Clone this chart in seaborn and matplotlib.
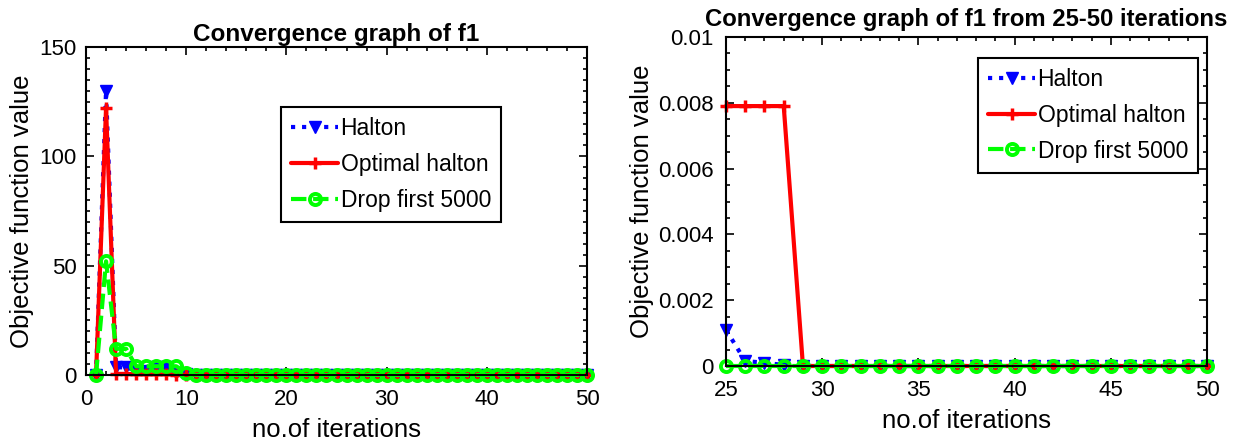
import numpy as np
import pandas as pd
import matplotlib
matplotlib.use("Agg")
import matplotlib.pyplot as plt
import seaborn as sns
from matplotlib.ticker import MultipleLocator

sns.set_theme(style="white")
plt.rcParams['font.family'] = ['Liberation Sans', 'DejaVu Sans']
plt.rcParams.update({"text.color": "black", "axes.labelcolor": "black",
                     "xtick.color": "black", "ytick.color": "black"})

# ---------------- data ----------------
iters = list(range(1, 51))
halton = [0, 130, 3.5, 3.5, 2, 2, 3.5, 3.5, 1, 0.5] + [0.0] * 40
optimal = [0, 122, 0.5, 0.5, 0.3, 0.3, 0.3, 0.3, 0.2, 0.1] + [0.0] * 14 + [0.0079] * 4 + [0.0] * 22
drop = [0, 52, 12, 12, 4, 4, 4, 4, 4, 1] + [0.0] * 40

zoom_iters = list(range(25, 51))
zoom_halton = [0.0011, 0.00015, 0.0001, 0.00003] + [0.0] * 22
zoom_optimal = [0.0079, 0.0079, 0.0079, 0.0079] + [0.0] * 22
zoom_drop = [0.0] * 26

labels = ["Halton", "Optimal halton", "Drop first 5000"]
titles = ["Convergence graph of f1", "Convergence graph of f1 from 25-50 iterations"]
xlabel = "no.of iterations"
ylabel = "Objective function value"

styles = [
    dict(color="#0000ff", linestyle=":", marker="v", markersize=8, markerfacecolor="#0000ff",
         markeredgecolor="#0000ff", markeredgewidth=1, linewidth=3),
    dict(color="#ff0000", linestyle="-", marker="+", markersize=8, markeredgecolor="#ff0000",
         markeredgewidth=2.5, linewidth=3),
    dict(color="#00ff00", linestyle="--", marker="o", markersize=8, markerfacecolor="none",
         markeredgecolor="#00ff00", markeredgewidth=2.8, linewidth=3),
]

fig = plt.figure(figsize=(12.43, 4.48), dpi=100)
ax1 = fig.add_axes([86 / 1243, 1 - 375 / 448, (587 - 86) / 1243, (375 - 47) / 448])
ax2 = fig.add_axes([726 / 1243, 1 - 366 / 448, (1207 - 726) / 1243, (366 - 37) / 448])


def draw(ax, x, series):
    for ys, lab, st in zip(series, labels, styles):
        df = pd.DataFrame({"x": x, "y": ys})
        sns.lineplot(data=df, x="x", y="y", ax=ax, label=lab, clip_on=False, **st)


draw(ax1, iters, [halton, optimal, drop])
draw(ax2, zoom_iters, [zoom_halton, zoom_optimal, zoom_drop])

tick_fs = 16
label_fs = 18.5
for ax, title, tpad, ypad, ylpad in zip([ax1, ax2], titles, [4, 8], [6.5, 9], [4, 3]):
    ax.set_title(title, fontsize=17.5 if ax is ax1 else 17.2, fontweight="bold", pad=tpad)
    ax.set_xlabel(xlabel, fontsize=label_fs, labelpad=6)
    ax.set_ylabel(ylabel, fontsize=label_fs, labelpad=ylpad)
    ax.tick_params(which="both", direction="in", top=True, right=True, bottom=True, left=True,
                   labelsize=tick_fs, width=1.2)
    ax.tick_params(axis="x", which="major", pad=10)
    ax.tick_params(axis="y", which="major", pad=ypad)
    ax.tick_params(which="major", length=6)
    ax.tick_params(which="minor", length=3)
    for sp in ax.spines.values():
        sp.set_color("black")
        sp.set_linewidth(1.5)

ax1.set_xlim(0, 50)
ax1.set_ylim(0, 150)
ax1.xaxis.set_major_locator(MultipleLocator(10))
ax1.xaxis.set_minor_locator(MultipleLocator(2))
ax1.yaxis.set_major_locator(MultipleLocator(50))
ax1.yaxis.set_minor_locator(MultipleLocator(5))

ax2.set_xlim(25, 50)
ax2.set_ylim(0, 0.01)
ax2.xaxis.set_major_locator(MultipleLocator(5))
ax2.xaxis.set_minor_locator(MultipleLocator(1))
ax2.set_yticks([0, 0.002, 0.004, 0.006, 0.008, 0.01])
ax2.set_yticklabels(["0", "0.002", "0.004", "0.006", "0.008", "0.01"])
ax2.yaxis.set_minor_locator(MultipleLocator(0.0005))

for ax, anchor in [(ax1, ((281 - 86) / 501, (375 - 107) / 328)), (ax2, ((978 - 726) / 481, (366 - 58) / 329))]:
    leg = ax.legend(loc="upper left", bbox_to_anchor=anchor, fontsize=16.5, frameon=True, fancybox=False,
                    borderpad=0.45, labelspacing=0.55, handlelength=2.05, handletextpad=0.1, borderaxespad=0)
    leg.get_frame().set_edgecolor("black")
    leg.get_frame().set_linewidth(1.5)
    leg.get_frame().set_alpha(1)

fig.savefig("out.png", dpi=100)
